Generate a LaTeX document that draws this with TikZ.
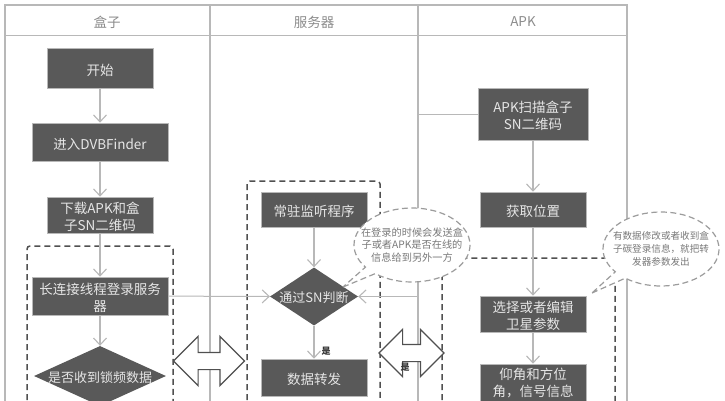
\documentclass[tikz,border=0pt]{standalone}
\usepackage{fontspec}
\setmainfont{Noto Sans CJK SC}
\usetikzlibrary{arrows.meta,shapes.geometric,shapes.arrows,shapes.callouts}
\definecolor{boxfill}{HTML}{595959}
\definecolor{linegray}{HTML}{B8B8B8}
\definecolor{txtlight}{HTML}{E6E6E6}
\definecolor{dashgray}{HTML}{505050}
\tikzset{
  flowbox/.style={draw=linegray,line width=.6pt,fill=boxfill,inner sep=0pt,minimum width=#1},
  flowbox/.default=106pt,
  flowtext/.style={text=txtlight,font=\fontsize{13.5}{17.5}\selectfont,align=center,inner sep=0pt,yshift=-2pt},
  flowdia/.style={diamond,fill=boxfill,inner sep=0pt},
  diatext/.style={text=txtlight,font=\fontsize{13}{16}\selectfont,inner sep=0pt,yshift=-1.5pt},
  flow/.style={draw=linegray,line width=1.3pt,-{Straight Barb[length=7pt,width=13pt,line width=1.1pt]}},
  thin flow/.style={draw=linegray,line width=1pt,-{Straight Barb[length=7pt,width=13pt,line width=1.1pt]}},
  lane/.style={draw=linegray,line width=1.3pt},
  zone/.style={draw=dashgray,line width=1.5pt,dash pattern=on 6pt off 4pt,rounded corners=3pt},
  head/.style={text=gray!90,font=\fontsize{13.5}{16}\selectfont,inner sep=0pt},
  bothway/.style={double arrow,draw=dashgray,line width=1.2pt,fill=white,inner xsep=0pt,inner ysep=8pt,double arrow tip angle=90},
  note/.style={ellipse callout,draw=linegray!85!black,line width=1.2pt,dash pattern=on 6pt off 3.5pt,fill=white,inner sep=0pt,callout pointer arc=14,minimum width=116pt,minimum height=74pt},
  notetext/.style={text=gray!95!black,font=\fontsize{#1}{12.7}\selectfont,align=center,inner sep=0pt},
  yes/.style={text=black!80,font=\fontsize{9}{10}\selectfont\bfseries,inner sep=0pt}
}
\begin{document}
\begin{tikzpicture}[x=1pt,y=-1pt]
\useasboundingbox (0,0) rectangle (725,400);
\clip (0,0) rectangle (725,400);
\fill[white] (0,0) rectangle (725,400);
% swimlanes
\draw[lane] (5,420) -- (5,5) -- (627,5) -- (627,420);
\draw[lane] (210,5) -- (210,420);
\draw[lane] (418,5) -- (418,420);
\draw[lane,line width=1pt] (5,35) -- (627,35);
\node[head] (h1) at (107,22) {盒子};
\node[head] (h2) at (314,22) {服务器};
\node[head] (h3) at (523,22) {APK};
% dashed zones
\draw[zone] (27,420) -- (27,246) -- (173,246) -- (173,420);
\draw[zone] (247,420) -- (247,181) -- (380,181) -- (380,420);
\draw[zone] (442,420) -- (442,258) -- (615,258) -- (615,420);
% nodes
\node[flowbox,minimum height=40pt,label={[flowtext]center:开始}] (start) at (100,68) {};
\node[flowbox=136pt,minimum height=38pt,label={[flowtext]center:进入DVBFinder}] (enter) at (100,142) {};
\node[flowbox,minimum height=36pt,label={[flowtext]center:下载APK和盒\\子SN二维码}] (down) at (100,215) {};
\node[flowbox=136pt,minimum height=38pt,label={[flowtext]center:长连接线程登录服务\\器}] (conn) at (100,296) {};
\node[flowdia,minimum width=132pt,minimum height=60pt,label={[diatext]center:是否收到锁频数据}] (lock) at (100,376) {};
\node[flowbox,minimum height=35pt,label={[flowtext]center:常驻监听程序}] (listen) at (314,209.5) {};
\node[flowdia,minimum width=88pt,minimum height=58pt,label={[diatext]center:通过SN判断}] (judge) at (314,296.5) {};
\node[flowbox,minimum height=37pt,label={[flowtext]center:数据转发}] (relay) at (314,377.5) {};
\node[flowbox=110pt,minimum height=52pt,label={[flowtext]center:APK扫描盒子\\SN二维码}] (scan) at (533,114) {};
\node[flowbox,minimum height=35pt,label={[flowtext]center:获取位置}] (loc) at (533,209.5) {};
\node[flowbox,minimum height=36pt,label={[flowtext]center:选择或者编辑\\卫星参数}] (sel) at (533,314) {};
\node[flowbox,minimum height=38pt,label={[flowtext,yshift=2pt]center:仰角和方位\\角，信号信息}] (ang) at (533,383) {};
\coordinate (elbow) at (418,114);
% connectors
\draw[flow] (start) -- (enter);
\draw[flow] (enter) -- (down);
\draw[flow] (down) -- (conn);
\draw[flow] (conn) -- (lock);
\draw[flow] (listen) -- (judge);
\draw[flow] (judge) -- (relay);
\draw[flow] (scan) -- (loc);
\draw[flow] (loc) -- (sel);
\draw[flow] (sel) -- (ang);
\draw[thin flow] (conn) -- (judge);
\draw[thin flow] (scan.west) -- (elbow) |- (judge.east);
% two-way arrows
\node[bothway,minimum height=71pt,double arrow head extend=16pt] (two1) at (209,361) {};
\node[bothway,minimum height=65pt,double arrow head extend=15pt] (two2) at (411.5,353) {};
% labels
\node[yes] (yes1) at (326,351) {是};
\node[yes] (yes2) at (405,367) {是};
% callouts
\node[note,callout absolute pointer={(343,287)},label={[notetext=10.2]center:在登录的时候会发送盒\\子或者APK是否在线的\\信息给到另外一方}] (note1) at (412,245) {};
\node[note,callout absolute pointer={(592,293)},label={[notetext=9.6]center:有数据修改或者收到盒\\子碳登录信息，就把转\\发器参数发出}] (note2) at (661,249) {};
\end{tikzpicture}
\end{document}
